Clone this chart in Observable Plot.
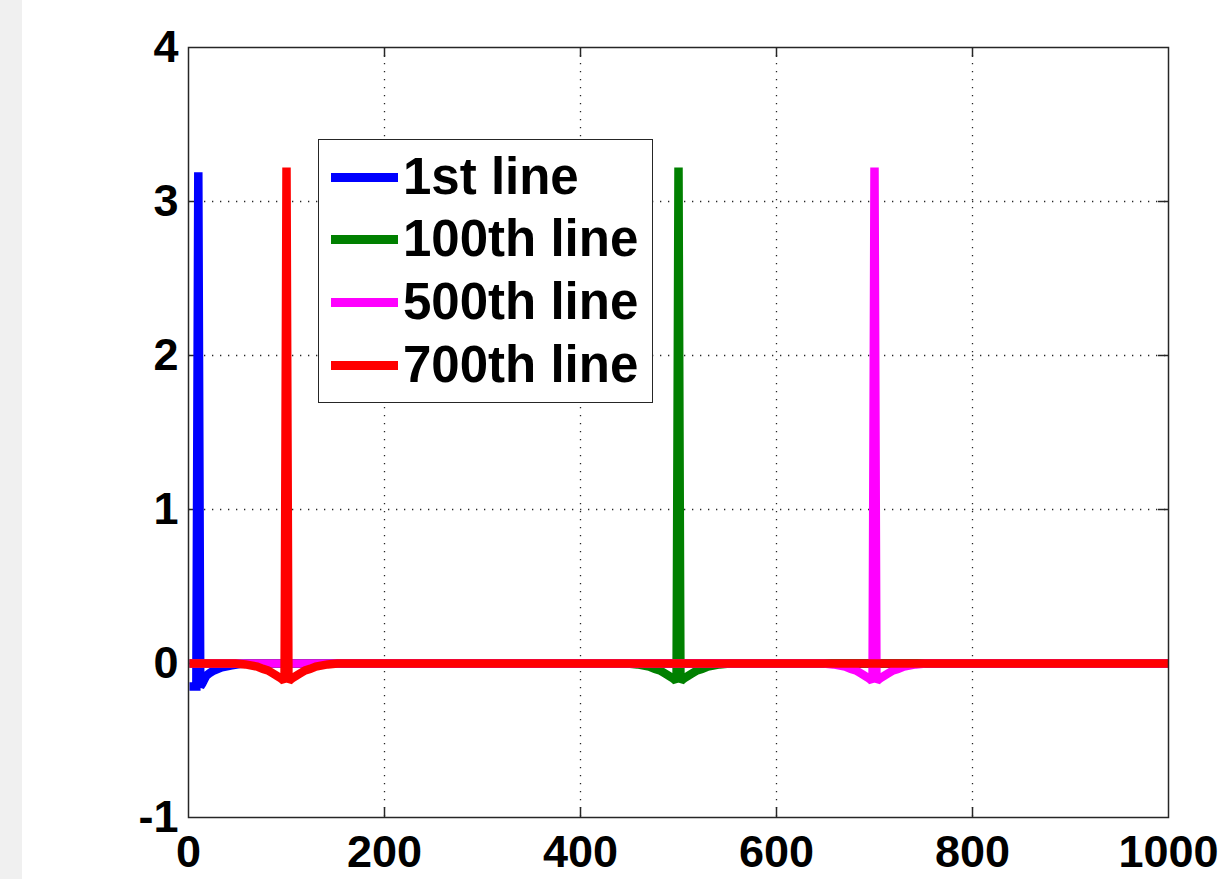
<!DOCTYPE html>
<html>
<head>
<meta charset="utf-8">
<script src="https://cdn.jsdelivr.net/npm/d3@7"></script>
<script src="https://cdn.jsdelivr.net/npm/@observablehq/plot@0.6"></script>
<style>
  html, body { margin: 0; padding: 0; }
  body { width: 1228px; height: 879px; position: relative; overflow: hidden;
         background: linear-gradient(to right, #f0f0f0 0px, #f0f0f0 22px, #ffffff 22px); }
  #chart { position: absolute; left: 0; top: 0; }
  #legend { position: absolute; left: 318px; top: 139px; width: 333px; height: 262px;
            border: 1.5px solid #262626; background: #fff;
            font-family: "Liberation Sans", Arial, sans-serif; font-weight: bold; font-size: 51px; }
  .row { position: absolute; left: 0; height: 50px; width: 100%; }
  .swatch { position: absolute; left: 12px; top: 20.5px; width: 67px; height: 9px; }
  .lbl { position: absolute; left: 84px; top: 0; line-height: 50px; white-space: nowrap; color: #000; }
</style>
</head>
<body>
<div id="chart"></div>
<div id="legend"></div>
<script>
// ---- data ----
const seriesNames = ["1st line", "100th line", "500th line", "700th line"];
const seriesColors = ["#0000ff", "#008000", "#ff00ff", "#ff0000"];

const blueX = [1, 7, 8, 9, 10, 11, 12, 14, 18, 22, 26, 34, 43, 52, 60, 1000];
const blueY = [-0.15, -0.15, -0.15, 1.5, 3.19, 1.5, -0.15, -0.13, -0.08, -0.06, -0.045, -0.025, -0.013, -0.004, 0, 0];

const greenX = [1, 448, 458, 470, 476, 481, 489, 494, 497, 498, 499, 500, 501, 502, 503, 506, 511, 519, 524, 530, 542, 552, 1000];
const greenY = [0, 0, -0.006, -0.02, -0.035, -0.045, -0.075, -0.095, -0.11, -0.12, 1.5, 3.22, 1.5, -0.12, -0.11, -0.095, -0.075, -0.045, -0.035, -0.02, -0.006, 0, 0];

const magentaX = [1, 648, 658, 670, 676, 681, 689, 694, 697, 698, 699, 700, 701, 702, 703, 706, 711, 719, 724, 730, 742, 752, 1000];
const magentaY = [0, 0, -0.006, -0.02, -0.035, -0.045, -0.075, -0.095, -0.11, -0.12, 1.5, 3.22, 1.5, -0.12, -0.11, -0.095, -0.075, -0.045, -0.035, -0.02, -0.006, 0, 0];

const redX = [1, 48, 58, 70, 76, 81, 89, 94, 97, 98, 99, 100, 101, 102, 103, 106, 111, 119, 124, 130, 142, 152, 1000];
const redY = [0, 0, -0.006, -0.02, -0.035, -0.045, -0.075, -0.095, -0.11, -0.12, 1.5, 3.22, 1.5, -0.12, -0.11, -0.095, -0.075, -0.045, -0.035, -0.02, -0.006, 0, 0];

const xTicks = [0, 200, 400, 600, 800, 1000];
const xTickLabels = ["0", "200", "400", "600", "800", "1000"];
const yTicks = [-1, 0, 1, 2, 3, 4];
const yTickLabels = ["-1", "0", "1", "2", "3", "4"];
const xGrid = [200, 400, 600, 800];
const yGrid = [0, 1, 2, 3];

// ---- build ----
const allX = [blueX, greenX, magentaX, redX];
const allY = [blueY, greenY, magentaY, redY];
const series = allX.map((xs, k) => xs.map((x, i) => ({x, y: allY[k][i]})));

const lineMarks = series.map((data, k) =>
  Plot.line(data, {x: "x", y: "y", stroke: seriesColors[k], strokeWidth: 8.5,
                   strokeLinejoin: "miter", strokeMiterlimit: 2, strokeLinecap: "butt", curve: "linear"}));

const frameColor = "#262626";

const chart = Plot.plot({
  width: 1228,
  height: 879,
  marginLeft: 188,
  marginRight: 60,
  marginTop: 47,
  marginBottom: 62,
  x: {domain: [0, 1000], label: null},
  y: {domain: [-1, 4], label: null},
  style: {fontFamily: "'Liberation Sans', Arial, sans-serif", fontSize: "45px", fontWeight: "bold",
          background: "transparent", color: "#000", overflow: "visible"},
  marks: [
    Plot.gridX(xGrid, {stroke: "#000", strokeOpacity: 0.85, strokeWidth: 1.3, strokeDasharray: "1.3,6.7"}),
    Plot.gridY(yGrid, {stroke: "#000", strokeOpacity: 0.85, strokeWidth: 1.3, strokeDasharray: "1.3,6.7"}),
    Plot.ruleX(xGrid, {x: d => d, insetTop: 760, stroke: frameColor, strokeWidth: 1.5}),
    Plot.ruleX(xGrid, {x: d => d, insetBottom: 760, stroke: frameColor, strokeWidth: 1.5}),
    Plot.ruleY([0, 1, 2, 3], {y: d => d, insetRight: 970, stroke: frameColor, strokeWidth: 1.5}),
    Plot.ruleY([0, 1, 2, 3], {y: d => d, insetLeft: 970, stroke: frameColor, strokeWidth: 1.5}),
    ...lineMarks,
    Plot.frame({stroke: frameColor, strokeWidth: 1.5}),
    Plot.axisX(xTicks, {tickSize: 0, tickPadding: 18, label: null,
      tickFormat: d => xTickLabels[xTicks.indexOf(d)], fontSize: 45, fontWeight: "bold", fill: "#000"}),
    Plot.axisY(yTicks, {tickSize: 0, tickPadding: 10, label: null,
      tickFormat: d => yTickLabels[yTicks.indexOf(d)], fontSize: 45, fontWeight: "bold", fill: "#000"})
  ]
});
document.getElementById("chart").appendChild(chart);

// ---- legend ----
const legend = document.getElementById("legend");
const rowCenters = [37, 99, 162, 225];
seriesNames.forEach((name, k) => {
  const row = document.createElement("div");
  row.className = "row";
  row.style.top = (rowCenters[k] - 25) + "px";
  const sw = document.createElement("div");
  sw.className = "swatch";
  sw.style.background = seriesColors[k];
  const lb = document.createElement("div");
  lb.className = "lbl";
  lb.textContent = name;
  row.appendChild(sw);
  row.appendChild(lb);
  legend.appendChild(row);
});
</script>
</body>
</html>
